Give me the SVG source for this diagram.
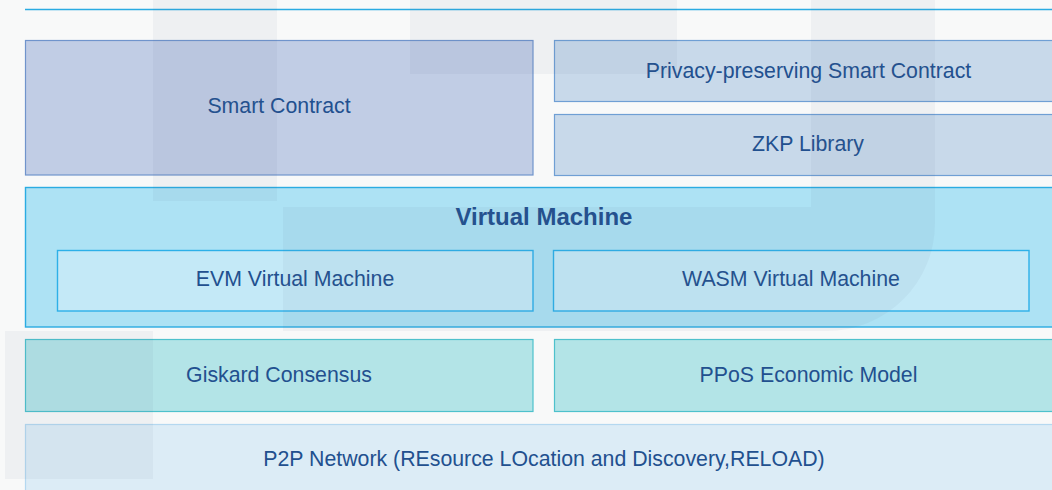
<svg xmlns="http://www.w3.org/2000/svg" width="1052" height="490" viewBox="0 0 1052 490">
  <style>
    text { font-family: "Liberation Sans", Arial, sans-serif; font-size: 21.3px; fill: #22508f; text-anchor: middle; }
    .title { font-weight: bold; font-size: 24px; }
    .contract { fill: #c1cde5; stroke: #7094cc; stroke-width: 1.2; }
    .privacy { fill: #c8d9ea; stroke: #6f9fd4; stroke-width: 1.2; }
    .vm { fill: #ade2f4; stroke: #2aace2; stroke-width: 1.4; }
    .vm-item { fill: #c4e9f7; stroke: #2db0e8; stroke-width: 1.4; }
    .consensus { fill: #b3e4e7; stroke: #4dc1cc; stroke-width: 1.2; }
    .network { fill: #dcecf6; stroke: #b4d8f0; stroke-width: 1.2; }
    .mark { fill: #5a6a85; opacity: 0.06; }
  </style>

  <!-- page background -->
  <rect x="0" y="0" width="1052" height="490" fill="#f8f9f9"/>

  <!-- header rule -->
  <line x1="25" y1="9.5" x2="1052" y2="9.5" stroke="#29abe2" stroke-width="1.4"/>

  <!-- application layer -->
  <g id="smart-contract">
    <rect class="contract" x="25.5" y="40.5" width="507.5" height="134.5"/>
    <text x="279" y="113">Smart Contract</text>
  </g>
  <g id="privacy-contract">
    <rect class="privacy" x="554.5" y="40.5" width="508" height="61"/>
    <text x="808.5" y="78">Privacy-preserving Smart Contract</text>
  </g>
  <g id="zkp-library">
    <rect class="privacy" x="554.5" y="114.5" width="508" height="61"/>
    <text x="808" y="151">ZKP Library</text>
  </g>

  <!-- execution layer -->
  <g id="virtual-machine">
    <rect class="vm" x="25.5" y="187.5" width="1038" height="139.5"/>
    <text class="title" x="544" y="225">Virtual Machine</text>
  </g>
  <g id="evm">
    <rect class="vm-item" x="57.5" y="250.5" width="475.5" height="60.5"/>
    <text x="295" y="286">EVM Virtual Machine</text>
  </g>
  <g id="wasm">
    <rect class="vm-item" x="553.5" y="250.5" width="475.5" height="60.5"/>
    <text x="791" y="286">WASM Virtual Machine</text>
  </g>

  <!-- consensus layer -->
  <g id="giskard">
    <rect class="consensus" x="25.5" y="339.5" width="507.5" height="72"/>
    <text x="279" y="382">Giskard Consensus</text>
  </g>
  <g id="ppos">
    <rect class="consensus" x="554.5" y="339.5" width="508" height="72"/>
    <text x="808.5" y="382">PPoS Economic Model</text>
  </g>

  <!-- network layer -->
  <g id="p2p-network">
    <rect class="network" x="25.5" y="424.5" width="1038" height="80"/>
    <text x="544" y="466">P2P Network (REsource LOcation and Discovery,RELOAD)</text>
  </g>

  <g id="connectors"/>

  <!-- faint background logo -->
  <g id="logo-mark">
    <rect class="mark" x="153" y="0" width="124" height="201"/>
    <rect class="mark" x="410" y="0" width="267" height="74"/>
    <path class="mark" d="M811,0 H935 V223 A108,108 0 0 1 827,331 H283 V207 H811 Z"/>
    <rect class="mark" x="5" y="331" width="148" height="148"/>
  </g>
</svg>
